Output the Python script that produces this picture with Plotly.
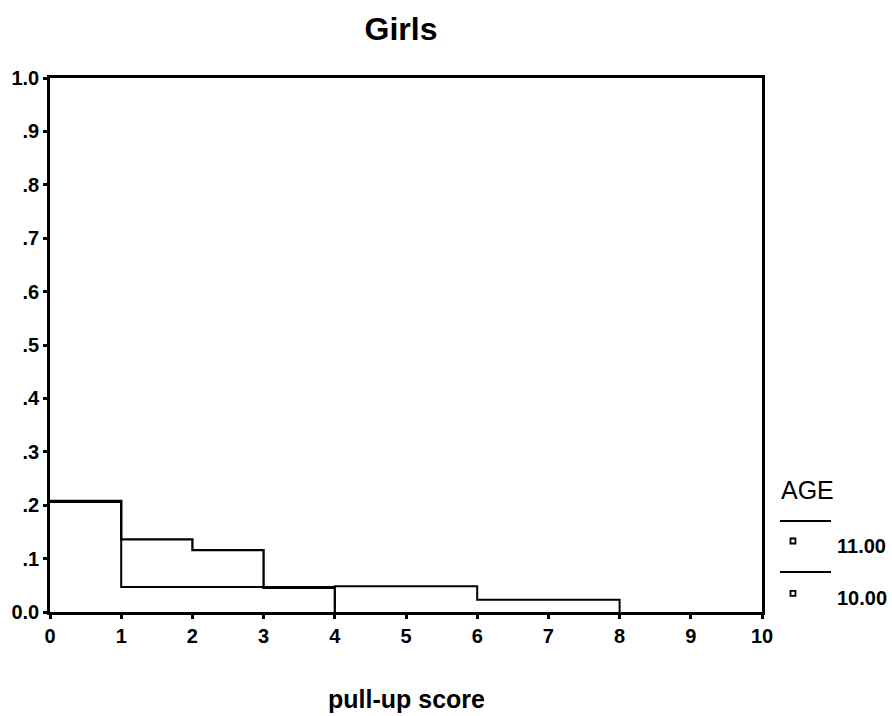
import plotly.graph_objects as go

# ---- data ----
score_age11 = [0, 1, 2, 3, 4]
prop_age11 = [0.208, 0.136, 0.116, 0.045, 0.0]

score_age10 = [0, 1, 2, 3, 4, 5, 6, 7, 8]
prop_age10 = [0.206, 0.047, 0.047, 0.047, 0.048, 0.048, 0.023, 0.023, 0.0]

x_ticks = [0, 1, 2, 3, 4, 5, 6, 7, 8, 9, 10]
y_ticks = [0.0, 0.1, 0.2, 0.3, 0.4, 0.5, 0.6, 0.7, 0.8, 0.9, 1.0]
y_ticktext = ["0.0", ".1", ".2", ".3", ".4", ".5", ".6", ".7", ".8", ".9", "1.0"]

legend_title = "AGE"
legend_labels = ["11.00", "10.00"]

FONT = "Liberation Sans, Arial, Helvetica, sans-serif"

fig = go.Figure()
fig.add_trace(go.Scatter(x=score_age11, y=prop_age11, mode="lines", line_shape="hv",
                         line=dict(color="black", width=2.3), name=legend_labels[0],
                         showlegend=False))
fig.add_trace(go.Scatter(x=score_age10, y=prop_age10, mode="lines", line_shape="hv",
                         line=dict(color="black", width=2.0), name=legend_labels[1],
                         showlegend=False))

axis_common = dict(showgrid=False, zeroline=False, showline=True, linecolor="black",
                   linewidth=2.5, mirror=True, ticks="outside", ticklen=4, tickwidth=3,
                   tickcolor="black", automargin=False,
                   tickfont=dict(family=FONT, size=20, color="black", weight="bold"))

fig.update_xaxes(range=[0, 10], tickvals=x_ticks, **axis_common)
fig.update_yaxes(range=[0, 1], tickvals=y_ticks, ticktext=y_ticktext, **axis_common)

# custom SPSS-style legend (paper coordinates)
leg_x0, leg_x1 = 1.0253, 1.0969
mark_x = 1.0435
lab_x = 1.1025
line_y = [0.1705, 0.075]
mark_y = [0.133, 0.035]
lab_y = [0.123, 0.0257]

shapes = []
annotations = [dict(text=legend_title, x=1.0239, y=0.229, xref="paper", yref="paper",
                    xanchor="left", yanchor="middle", showarrow=False,
                    font=dict(family=FONT, size=25, color="black"))]
for i, lab in enumerate(legend_labels):
    shapes.append(dict(type="line", xref="paper", yref="paper", x0=leg_x0, x1=leg_x1,
                       y0=line_y[i], y1=line_y[i], line=dict(color="black", width=2)))
    shapes.append(dict(type="rect", xref="paper", yref="paper", xsizemode="pixel",
                       ysizemode="pixel", xanchor=mark_x, yanchor=mark_y[i],
                       x0=-2.5, x1=2.5, y0=-2.5, y1=2.5,
                       line=dict(color="black", width=1.8), fillcolor="white"))
    annotations.append(dict(text=lab, x=lab_x, y=lab_y[i], xref="paper", yref="paper",
                            xanchor="left", yanchor="middle", showarrow=False,
                            font=dict(family=FONT, size=20, color="black", weight="bold")))

annotations.append(dict(text="pull-up score", x=0.5, y=-0.162, xref="paper", yref="paper",
                        xanchor="center", yanchor="middle", showarrow=False,
                        font=dict(family=FONT, size=25, color="black", weight="bold")))

fig.update_layout(
    width=892, height=716,
    margin=dict(l=50, r=130, t=78, b=104),
    paper_bgcolor="white", plot_bgcolor="white",
    title=dict(text="Girls", x=0.493, xref="paper", xanchor="center",
               y=1 - 29 / 716, yanchor="middle", yref="container",
               font=dict(family=FONT, size=32, color="black", weight="bold")),
    shapes=shapes, annotations=annotations,
)

fig.write_html(
    "out.html",
    config={"displayModeBar": False},
    post_script="document.body.style.margin='0px';document.body.style.overflow='hidden';",
)
